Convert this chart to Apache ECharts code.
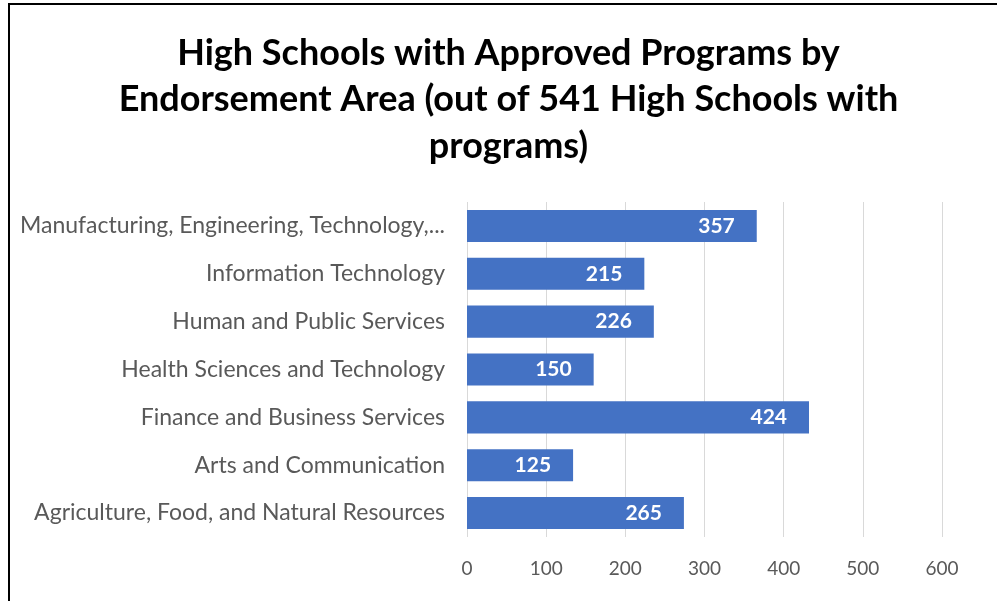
<!DOCTYPE html>
<html>
<head>
<meta charset="utf-8">
<script src="https://cdn.jsdelivr.net/npm/echarts@6/dist/echarts.min.js"></script>
<style>
    html, body { margin: 0; padding: 0; background: #fff; overflow: hidden; }
    #frame { position: absolute; left: 8px; top: 3px; width: 1000px; height: 610px;
             border-top: 2px solid #000; border-left: 2px solid #000; }
    #chart { position: absolute; left: 10px; top: 0; width: 997px; height: 601px; }
</style>
</head>
<body>
<div id="frame"></div>
<div id="chart"></div>
<script>
// 图表数据（从上到下）
let categories = [
    'Manufacturing, Engineering, Technology,...',
    'Information Technology',
    'Human and Public Services',
    'Health Sciences and Technology',
    'Finance and Business Services',
    'Arts and Communication',
    'Agriculture, Food, and Natural Resources'
];
// 条形长度（按图上的刻度读出）
let barValues = [366, 224, 236, 160, 432, 134, 274];
// 条形上写的数字
let labelValues = [357, 215, 226, 150, 424, 125, 265];
let xTicks = [0, 100, 200, 300, 400, 500, 600];

let myChart = echarts.init(document.getElementById('chart'));
let option = {
    backgroundColor: 'transparent',
    title: {
        text: 'High Schools with Approved Programs by\nEndorsement Area (out of 541 High Schools with\nprograms)',
        left: 'center',
        top: 25,
        textStyle: {
            fontFamily: 'Lato',
            fontWeight: 'bold',
            fontSize: 36,
            lineHeight: 46.5,
            color: '#000'
        }
    },
    grid: {
        left: 457,
        right: 65,
        top: 202,
        bottom: 64
    },
    xAxis: {
        type: 'value',
        min: xTicks[0],
        max: xTicks[xTicks.length - 1],
        interval: 100,
        axisLine: { show: false },
        axisTick: { show: false },
        axisLabel: {
            margin: 22,
            fontFamily: 'Lato',
            fontSize: 19,
            color: '#595959'
        },
        splitLine: {
            lineStyle: { color: '#d9d9d9', width: 1 }
        }
    },
    yAxis: {
        type: 'category',
        inverse: true,
        data: categories,
        axisLine: { show: false },
        axisTick: { show: false },
        axisLabel: {
            margin: 22,
            fontFamily: 'Lato',
            fontSize: 23,
            color: '#595959'
        }
    },
    series: [{
        type: 'bar',
        data: barValues,
        barCategoryGap: '33%',
        itemStyle: { color: '#4472c4' },
        label: {
            show: true,
            position: 'insideRight',
            distance: 22,
            fontFamily: 'Lato',
            fontWeight: 'bold',
            fontSize: 21,
            color: '#fff',
            formatter: function (p) { return labelValues[p.dataIndex]; }
        }
    }]
};
myChart.setOption(option);
</script>
</body>
</html>
